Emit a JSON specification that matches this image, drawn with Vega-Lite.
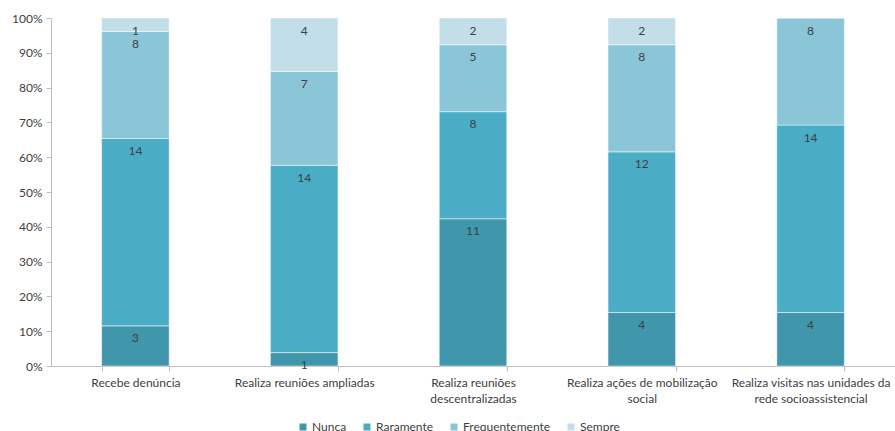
{
  "$schema": "https://vega.github.io/schema/vega-lite/v6.json",
  "width": 844,
  "height": 348,
  "autosize": {"type": "none"},
  "padding": {"left": 51, "top": 18, "right": 0, "bottom": 65},
  "background": "white",
  "config": {
    "view": {"stroke": null},
    "font": "Lato",
    "axis": {"labelFont": "Lato", "labelColor": "#404040", "labelFontSize": 12, "domainColor": "#BFBFBF", "tickColor": "#BFBFBF", "grid": false, "title": null},
    "legend": {"labelFont": "Lato", "labelColor": "#404040", "labelFontSize": 12}
  },
  "data": {
    "values": [
      {"categoria": "Recebe denúncia", "serie": "Nunca", "valor": 3},
      {"categoria": "Recebe denúncia", "serie": "Raramente", "valor": 14},
      {"categoria": "Recebe denúncia", "serie": "Frequentemente", "valor": 8},
      {"categoria": "Recebe denúncia", "serie": "Sempre", "valor": 1},
      {"categoria": "Realiza reuniões ampliadas", "serie": "Nunca", "valor": 1},
      {"categoria": "Realiza reuniões ampliadas", "serie": "Raramente", "valor": 14},
      {"categoria": "Realiza reuniões ampliadas", "serie": "Frequentemente", "valor": 7},
      {"categoria": "Realiza reuniões ampliadas", "serie": "Sempre", "valor": 4},
      {"categoria": "Realiza reuniões descentralizadas", "serie": "Nunca", "valor": 11},
      {"categoria": "Realiza reuniões descentralizadas", "serie": "Raramente", "valor": 8},
      {"categoria": "Realiza reuniões descentralizadas", "serie": "Frequentemente", "valor": 5},
      {"categoria": "Realiza reuniões descentralizadas", "serie": "Sempre", "valor": 2},
      {"categoria": "Realiza ações de mobilização social", "serie": "Nunca", "valor": 4},
      {"categoria": "Realiza ações de mobilização social", "serie": "Raramente", "valor": 12},
      {"categoria": "Realiza ações de mobilização social", "serie": "Frequentemente", "valor": 8},
      {"categoria": "Realiza ações de mobilização social", "serie": "Sempre", "valor": 2},
      {"categoria": "Realiza visitas nas unidades da rede socioassistencial", "serie": "Nunca", "valor": 4},
      {"categoria": "Realiza visitas nas unidades da rede socioassistencial", "serie": "Raramente", "valor": 14},
      {"categoria": "Realiza visitas nas unidades da rede socioassistencial", "serie": "Frequentemente", "valor": 8},
      {"categoria": "Realiza visitas nas unidades da rede socioassistencial", "serie": "Sempre", "valor": 0}
    ]
  },
  "transform": [
    {"calculate": "indexof(['Nunca','Raramente','Frequentemente','Sempre'], datum.serie)", "as": "ordem"},
    {"stack": "valor", "groupby": ["categoria"], "sort": [{"field": "ordem"}], "offset": "normalize", "as": ["y0", "y1"]}
  ],
  "encoding": {
    "x": {
      "field": "categoria",
      "type": "nominal",
      "sort": null,
      "scale": {"paddingInner": 0.6, "paddingOuter": 0.3},
      "axis": {
        "labelAngle": 0,
        "tickBand": "extent",
        "tickSize": 5,
        "labelPadding": 6,
        "labelLineHeight": 16,
        "labelOverlap": false,
        "labelBound": false,
        "labelLimit": 0,
        "labelExpr": "datum.value == 'Realiza reuniões descentralizadas' ? ['Realiza reuniões','descentralizadas'] : datum.value == 'Realiza ações de mobilização social' ? ['Realiza ações de mobilização','social'] : datum.value == 'Realiza visitas nas unidades da rede socioassistencial' ? ['Realiza visitas nas unidades da','rede socioassistencial'] : datum.value"
      }
    }
  },
  "layer": [
    {
      "mark": {"type": "bar", "stroke": "white", "strokeWidth": 0.8, "strokeOpacity": 0.6},
      "encoding": {
        "y": {
          "field": "y0",
          "type": "quantitative",
          "scale": {"domain": [0, 1]},
          "axis": {"format": ".0%", "values": [0, 0.1, 0.2, 0.3, 0.4, 0.5, 0.6, 0.7, 0.8, 0.9, 1], "labelOverlap": false, "labelFlush": false, "tickSize": 5, "labelPadding": 4}
        },
        "y2": {"field": "y1"},
        "color": {
          "field": "serie",
          "type": "nominal",
          "scale": {"domain": ["Nunca", "Raramente", "Frequentemente", "Sempre"], "range": ["#4096AA", "#4BACC6", "#8AC6D8", "#C2DEE8"]},
          "legend": {
            "title": null,
            "orient": "none",
            "direction": "horizontal",
            "legendX": 246,
            "legendY": 403,
            "symbolType": "square",
            "symbolSize": 49,
            "symbolStrokeWidth": 0,
            "labelOffset": 3,
            "columnPadding": 14
          }
        }
      }
    },
    {
      "transform": [{"filter": "datum.valor > 0"}],
      "mark": {"type": "text", "baseline": "middle", "dy": 12.5, "fontSize": 12, "color": "#404040", "font": "Lato"},
      "encoding": {
        "y": {
          "field": "y1",
          "type": "quantitative",
          "axis": {"format": ".0%", "values": [0, 0.1, 0.2, 0.3, 0.4, 0.5, 0.6, 0.7, 0.8, 0.9, 1], "labelOverlap": false, "labelFlush": false, "tickSize": 5, "labelPadding": 4}
        },
        "text": {"field": "valor", "type": "quantitative"}
      }
    }
  ]
}
